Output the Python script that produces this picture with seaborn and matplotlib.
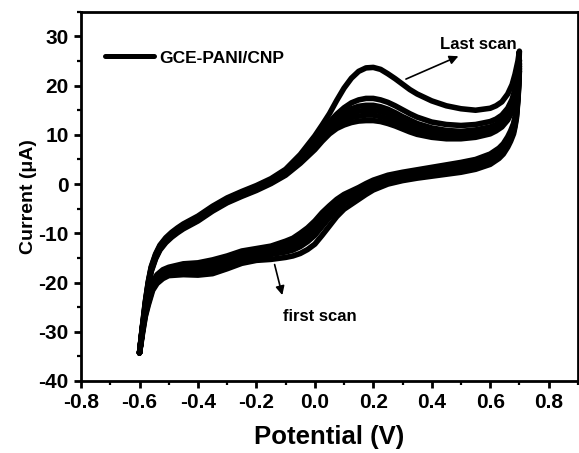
import matplotlib
matplotlib.use("Agg")
import matplotlib.pyplot as plt
import pandas as pd
import seaborn as sns
from matplotlib.lines import Line2D
from matplotlib.ticker import MultipleLocator

# Potential grid of the anodic (forward) sweep, V
FX = [-0.60, -0.595, -0.59, -0.58, -0.57, -0.56, -0.545, -0.53, -0.51, -0.49, -0.47, -0.45,
      -0.40, -0.35, -0.30, -0.25, -0.20, -0.15, -0.10, -0.05, 0.00, 0.025, 0.05, 0.075,
      0.10, 0.125, 0.15, 0.175, 0.20, 0.225, 0.25, 0.275, 0.30, 0.325, 0.35, 0.40, 0.45,
      0.50, 0.55, 0.60, 0.62, 0.64, 0.66, 0.675, 0.685, 0.695, 0.70]
# Potential grid of the cathodic (reverse) sweep, V
RX = [0.70, 0.698, 0.695, 0.69, 0.685, 0.68, 0.67, 0.66, 0.645, 0.63, 0.60, 0.55, 0.50,
      0.45, 0.40, 0.35, 0.30, 0.25, 0.20, 0.175, 0.15, 0.125, 0.10, 0.075, 0.05, 0.025,
      0.00, -0.025, -0.05, -0.075, -0.10, -0.15, -0.20, -0.25, -0.30, -0.35, -0.40, -0.45,
      -0.50, -0.52, -0.54, -0.555, -0.57, -0.58, -0.59, -0.595, -0.60]

# Current (uA) on the forward sweep of each scan
scan1_fwd = [-34.3, -32.1, -29.8, -24.8, -20.8, -17.8, -15.2, -13.4, -11.9, -10.8, -9.9, -9.1,
             -7.5, -5.5, -3.8, -2.5, -1.3, 0.1, 1.8, 4.2, 7.0, 8.7, 10.2, 11.3,
             12.0, 12.5, 12.8, 12.9, 12.9, 12.7, 12.3, 11.8, 11.2, 10.6, 10.1, 9.5, 9.2,
             9.2, 9.5, 10.2, 10.8, 11.6, 13.0, 14.8, 17.0, 20.4, 23.0]
scan2_fwd = [-34.3, -32.0, -29.6, -24.6, -20.6, -17.6, -15.0, -13.2, -11.7, -10.6, -9.7, -8.9,
             -7.3, -5.3, -3.6, -2.3, -1.1, 0.3, 2.0, 4.5, 7.4, 9.2, 10.8, 12.0,
             12.9, 13.5, 13.8, 14.0, 14.0, 13.7, 13.3, 12.7, 12.0, 11.4, 10.8, 10.1, 9.7,
             9.7, 10.0, 10.6, 11.2, 12.0, 13.4, 15.2, 17.4, 20.8, 23.5]
scan3_fwd = [-34.3, -31.9, -29.4, -24.4, -20.4, -17.4, -14.8, -13.0, -11.5, -10.4, -9.5, -8.7,
             -7.1, -5.1, -3.4, -2.1, -0.9, 0.5, 2.2, 4.8, 7.8, 9.7, 11.4, 12.7,
             13.7, 14.4, 14.8, 15.0, 15.0, 14.7, 14.3, 13.6, 12.9, 12.2, 11.5, 10.7, 10.3,
             10.2, 10.5, 11.1, 11.6, 12.4, 13.8, 15.6, 17.8, 21.2, 24.0]
scan4_fwd = [-34.3, -31.8, -29.2, -24.2, -20.2, -17.2, -14.6, -12.8, -11.3, -10.2, -9.3, -8.5,
             -6.9, -4.9, -3.2, -1.9, -0.7, 0.7, 2.4, 5.1, 8.2, 10.2, 12.0, 13.4,
             14.5, 15.3, 15.8, 16.0, 16.0, 15.7, 15.2, 14.5, 13.7, 13.0, 12.3, 11.4, 10.9,
             10.7, 11.0, 11.6, 12.1, 12.9, 14.3, 16.1, 18.3, 21.7, 24.5]
scan5_fwd = [-34.3, -31.7, -29.0, -24.0, -20.0, -17.0, -14.4, -12.6, -11.1, -10.0, -9.1, -8.3,
             -6.7, -4.7, -3.0, -1.7, -0.5, 0.9, 2.7, 5.5, 8.7, 10.8, 12.6, 14.2,
             15.5, 16.5, 17.1, 17.4, 17.4, 17.1, 16.6, 15.9, 15.1, 14.3, 13.6, 12.6, 12.1,
             11.9, 12.1, 12.7, 13.2, 14.0, 15.4, 17.2, 19.3, 22.6, 25.2]
scan6_fwd = [-34.3, -31.6, -28.8, -23.8, -19.8, -16.8, -14.2, -12.4, -10.9, -9.8, -8.9, -8.1,
             -6.5, -4.5, -2.8, -1.5, -0.3, 1.1, 3.0, 6.0, 9.8, 12.0, 14.3, 17.0,
             19.5, 21.5, 22.9, 23.6, 23.7, 23.3, 22.4, 21.4, 20.3, 19.2, 18.3, 16.9, 15.9,
             15.3, 15.0, 15.4, 15.9, 16.7, 18.3, 20.2, 22.3, 25.0, 27.0]

# Current (uA) on the reverse sweep of each scan
scan1_rev = [23.0, 20.0, 17.0, 13.4, 11.6, 10.2, 8.7, 7.5, 6.1, 5.2, 4.0, 3.0, 2.4,
             2.0, 1.6, 1.2, 0.7, 0.0, -1.2, -2.1, -3.1, -4.1, -5.1, -6.6, -8.5, -10.4,
             -12.2, -13.3, -14.1, -14.6, -14.9, -15.3, -15.5, -16.1, -17.2, -18.2, -18.5, -18.4,
             -18.6, -19.2, -20.2, -21.6, -24.6, -26.9, -30.5, -32.5, -34.3]
scan2_rev = [23.5, 20.5, 17.4, 13.8, 12.0, 10.7, 9.2, 8.0, 6.6, 5.7, 4.5, 3.4, 2.8,
             2.4, 2.0, 1.6, 1.1, 0.5, -0.3, -1.1, -2.0, -3.0, -3.9, -5.2, -6.8, -8.6,
             -10.4, -11.7, -12.7, -13.4, -13.8, -14.3, -14.7, -15.3, -16.4, -17.5, -17.9, -17.9,
             -18.2, -18.8, -19.8, -21.2, -24.2, -26.6, -30.2, -32.3, -34.3]
scan3_rev = [24.0, 21.0, 17.8, 14.2, 12.4, 11.1, 9.6, 8.4, 7.0, 6.1, 4.9, 3.8, 3.2,
             2.8, 2.4, 2.0, 1.5, 0.9, 0.1, -0.7, -1.6, -2.5, -3.4, -4.6, -6.0, -7.6,
             -9.4, -10.7, -11.8, -12.6, -13.1, -13.8, -14.2, -14.8, -15.9, -16.9, -17.4, -17.4,
             -17.8, -18.4, -19.4, -20.8, -23.8, -26.3, -29.9, -32.1, -34.3]
scan4_rev = [24.5, 21.5, 18.2, 14.6, 12.8, 11.5, 10.0, 8.8, 7.4, 6.5, 5.3, 4.2, 3.6,
             3.2, 2.7, 2.3, 1.8, 1.2, 0.4, -0.4, -1.3, -2.1, -3.0, -4.1, -5.4, -6.9,
             -8.6, -10.0, -11.1, -12.0, -12.6, -13.4, -13.8, -14.4, -15.4, -16.4, -16.9, -17.0,
             -17.4, -18.0, -19.0, -20.4, -23.4, -26.0, -29.6, -31.9, -34.3]
scan5_rev = [25.2, 22.0, 18.6, 15.0, 13.2, 11.9, 10.4, 9.2, 7.8, 6.9, 5.7, 4.6, 4.0,
             3.5, 3.0, 2.6, 2.1, 1.5, 0.6, -0.1, -1.0, -1.8, -2.5, -3.6, -4.9, -6.3,
             -8.0, -9.4, -10.5, -11.5, -12.1, -13.0, -13.4, -14.0, -15.0, -15.9, -16.4, -16.6,
             -17.1, -17.7, -18.7, -20.1, -23.0, -25.7, -29.3, -31.7, -34.3]
scan6_rev = [27.0, 23.5, 19.5, 15.6, 13.6, 12.3, 10.8, 9.6, 8.2, 7.3, 6.1, 5.0, 4.4,
             3.9, 3.4, 2.9, 2.4, 1.8, 0.8, 0.1, -0.7, -1.4, -2.1, -3.1, -4.4, -5.8,
             -7.5, -8.9, -10.0, -11.0, -11.6, -12.6, -13.1, -13.6, -14.6, -15.4, -16.0, -16.2,
             -16.9, -17.4, -18.4, -19.8, -22.6, -25.4, -29.0, -31.5, -34.3]

SCANS = {
    1: (scan1_fwd, scan1_rev),
    2: (scan2_fwd, scan2_rev),
    3: (scan3_fwd, scan3_rev),
    4: (scan4_fwd, scan4_rev),
    5: (scan5_fwd, scan5_rev),
    6: (scan6_fwd, scan6_rev),
}

XTICKS = [-0.8, -0.6, -0.4, -0.2, 0.0, 0.2, 0.4, 0.6, 0.8]
XTICKLABELS = ["-0.8", "-0.6", "-0.4", "-0.2", "0.0", "0.2", "0.4", "0.6", "0.8"]
YTICKS = [-40, -30, -20, -10, 0, 10, 20, 30]
YTICKLABELS = ["-40", "-30", "-20", "-10", "0", "10", "20", "30"]
SERIES_LABEL = "GCE-PANI/CNP"

# long-form table: one closed voltammetric loop per scan
rows = []
for scan, (fwd, rev) in SCANS.items():
    pot = FX + RX[1:]
    cur = fwd + rev[1:]
    for step, (e, i) in enumerate(zip(pot, cur)):
        rows.append({"scan": scan, "step": step, "E": e, "I": i})
df = pd.DataFrame(rows)

sns.set_theme(style="ticks")
plt.rcParams["font.family"] = ["Liberation Sans", "DejaVu Sans"]
plt.rcParams["font.weight"] = "bold"
plt.rcParams["axes.labelweight"] = "bold"
for key in ("text.color", "axes.labelcolor", "xtick.color", "ytick.color", "axes.edgecolor"):
    plt.rcParams[key] = "black"

fig = plt.figure(figsize=(5.79, 4.53), dpi=100)
ax = fig.add_axes([0.140, 0.159, 0.858, 0.815])

sns.lineplot(data=df, x="E", y="I", units="scan", estimator=None, sort=False,
             color="black", lw=4.0, ax=ax, legend=False)
for ln in ax.lines:
    ln.set_solid_capstyle("round")
    ln.set_solid_joinstyle("round")

ax.set_xlim(-0.8, 0.9)
ax.set_ylim(-40, 35)
ax.set_xticks(XTICKS)
ax.set_xticklabels(XTICKLABELS)
ax.set_yticks(YTICKS)
ax.set_yticklabels(YTICKLABELS)
ax.xaxis.set_minor_locator(MultipleLocator(0.1))
ax.yaxis.set_minor_locator(MultipleLocator(5))
ax.tick_params(which="major", direction="out", length=5, width=2, labelsize=15,
               colors="black", pad=4)
ax.tick_params(which="minor", direction="out", length=3, width=1.6, colors="black")
for sp in ax.spines.values():
    sp.set_visible(True)
    sp.set_linewidth(2)
    sp.set_color("black")

ax.set_xlabel("Potential (V)", fontsize=18.5, fontweight="bold", labelpad=9)
ax.set_ylabel("Current (μA)", fontsize=14, fontweight="bold", labelpad=1)

arrow = dict(arrowstyle="-|>", color="black", lw=1.2, mutation_scale=13)
ax.annotate("", xy=(0.50, 26.2), xytext=(0.303, 21.1), arrowprops=arrow)
ax.text(0.558, 28.4, "Last scan", ha="center", va="center", fontsize=12, fontweight="bold")
ax.annotate("", xy=(-0.109, -23.1), xytext=(-0.14, -15.8), arrowprops=arrow)
ax.text(0.017, -27.0, "first scan", ha="center", va="center", fontsize=12, fontweight="bold")

ax.legend(handles=[Line2D([0], [0], color="black", lw=3.6, solid_capstyle="round")],
          labels=[SERIES_LABEL], loc="center left", bbox_to_anchor=(0.048, 0.875),
          frameon=False, prop={"size": 12.5, "weight": "bold"}, handlelength=2.8,
          handletextpad=0.35, borderpad=0, borderaxespad=0)

fig.savefig("out.png", dpi=100)
